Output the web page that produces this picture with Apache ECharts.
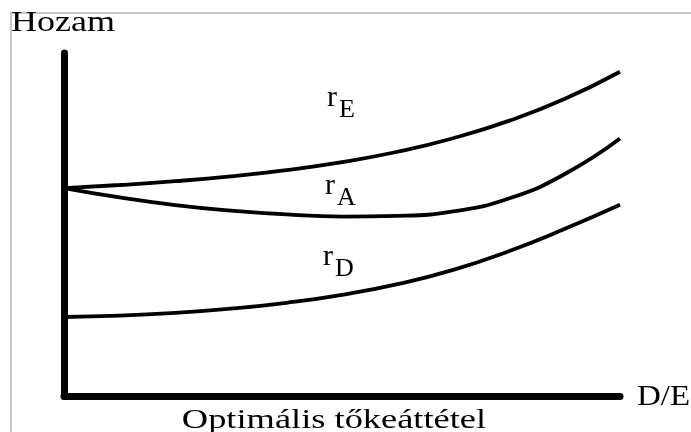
<!DOCTYPE html>
<html>
<head>
<meta charset="utf-8">
<script src="https://cdn.jsdelivr.net/npm/echarts@6/dist/echarts.min.js"></script>
<style>
  html, body { margin: 0; padding: 0; background: #fff; }
  #chart { width: 691px; height: 432px; }
</style>
</head>
<body>
<div id="chart"></div>
<script>
// D/E (leverage) steps along the x axis
var deSteps = [0, 1, 2, 3, 4, 5, 6, 7, 8, 9, 10];
// returns (arbitrary units, 0..99)
var rE = [60, 60.9, 62, 63.4, 65.2, 67.5, 70.5, 74.4, 79.4, 85.7, 93.6];
var rA = [60, 57.3, 55.1, 53.5, 52.4, 51.8, 52, 53.3, 57, 64, 74.3];
var rD = [22.8, 23.2, 24, 25.2, 26.9, 29.2, 32.3, 36.4, 41.8, 48.2, 55.2];
var curveNames = ["E", "A", "D"];

var serif = "'Liberation Serif', 'DejaVu Serif', serif";

function pairs(ys) {
  return deSteps.map(function(x, i) {
    return [x, ys[i]];
  });
}

function curve(name, ys) {
  return {
    name: name,
    type: "line",
    data: pairs(ys),
    smooth: 0.5,
    showSymbol: false,
    silent: true,
    lineStyle: { color: "#000", width: 3.8 }
  };
}

// r + subscript letter, placed by hand like the original drawing
function subLabel(letter, x, baseline) {
  return [
    {
      type: "text",
      x: x,
      y: baseline - 10,
      style: { text: "r", font: "30px " + serif, fill: "#000", verticalAlign: "middle" }
    },
    {
      type: "text",
      x: x + 12,
      y: baseline + 2,
      style: { text: letter, font: "26px " + serif, fill: "#000", verticalAlign: "middle" }
    }
  ];
}

var myChart = echarts.init(document.getElementById("chart"));

var graphics = [
  // thin grey frame (top and left edge)
  {
    type: "polyline",
    shape: { points: [[11, 432], [11, 13], [691, 13]] },
    style: { stroke: "#c8c8c8", lineWidth: 2, fill: null }
  },
  {
    type: "text",
    x: 11,
    y: 23,
    scaleX: 1.2,
    style: { text: "Hozam", font: "30px " + serif, fill: "#000", verticalAlign: "middle" }
  },
  {
    type: "text",
    x: 637,
    y: 397,
    scaleX: 1.1,
    style: { text: "D/E", font: "30px " + serif, fill: "#000", verticalAlign: "middle" }
  },
  {
    type: "text",
    x: 334,
    y: 421,
    scaleX: 1.3,
    style: { text: "Optimális tőkeáttétel", font: "28px " + serif, fill: "#000", align: "center", verticalAlign: "middle" }
  }
]
  .concat(subLabel(curveNames[0], 327, 108))
  .concat(subLabel(curveNames[1], 325, 196))
  .concat(subLabel(curveNames[2], 323, 267));

var option = {
  animation: false,
  backgroundColor: "#fff",
  grid: { left: 64, right: 71, top: 53, bottom: 36 },
  xAxis: {
    type: "value",
    min: 0,
    max: 10,
    axisLine: { show: true, lineStyle: { color: "#000", width: 7, cap: "round" } },
    axisTick: { show: false },
    axisLabel: { show: false },
    splitLine: { show: false }
  },
  yAxis: {
    type: "value",
    min: 0,
    max: 99,
    axisLine: { show: true, lineStyle: { color: "#000", width: 7, cap: "round" } },
    axisTick: { show: false },
    axisLabel: { show: false },
    splitLine: { show: false }
  },
  series: [curve("rE", rE), curve("rA", rA), curve("rD", rD)],
  graphic: graphics
};

myChart.setOption(option);
</script>
</body>
</html>
